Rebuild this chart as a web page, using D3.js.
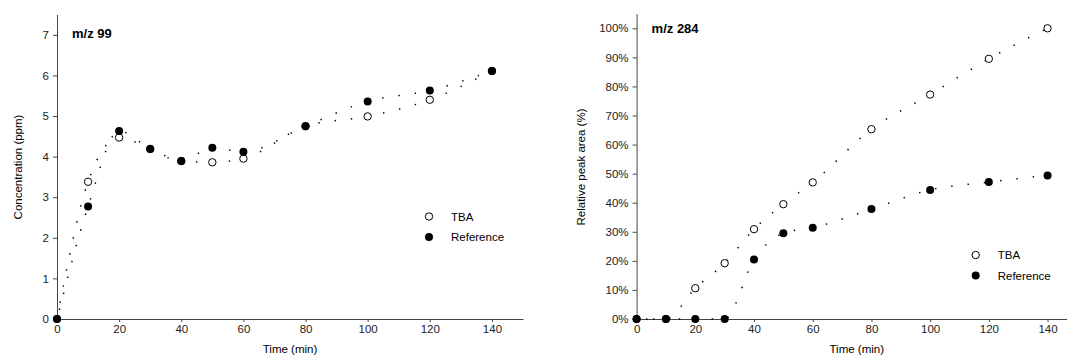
<html>
<head>
<script src="https://cdnjs.cloudflare.com/ajax/libs/d3/7.8.5/d3.min.js"></script>
<style>
  body { margin: 0; background: #fff; }
  svg { font-family: "Liberation Sans", Arial, sans-serif; }
  .axis path, .axis line { stroke: #444; }
  .axis text { font-size: 11.5px; fill: #222; }
  .dotline { fill: none; stroke: #000; stroke-width: 1.5; stroke-dasharray: 1.4 15; }
</style>
</head>
<body>
<svg id="chart" width="1067" height="356"></svg>
<script>
// sampling times (min)
var times = [0, 10, 20, 30, 40, 50, 60, 80, 100, 120, 140];

// m/z 99 concentration (ppm)
var tba99 = [0, 3.38, 4.47, 4.19, 3.89, 3.86, 3.95, 4.75, 4.99, 5.40, 6.11];
var ref99 = [0, 2.77, 4.63, 4.19, 3.89, 4.22, 4.12, 4.75, 5.36, 5.63, 6.11];

// m/z 284 relative peak area (%)
var tba284 = [0, 0, 10.6, 19.2, 30.9, 39.5, 47.0, 65.3, 77.2, 89.5, 100];
var ref284 = [0, 0, 0, 0, 20.5, 29.5, 31.4, 37.8, 44.4, 47.1, 49.4];

var xTicks = [0, 20, 40, 60, 80, 100, 120, 140];
var yTicks99 = [0, 1, 2, 3, 4, 5, 6, 7];
var yTicks284 = [0, 10, 20, 30, 40, 50, 60, 70, 80, 90, 100];

var svg = d3.select("#chart");

function panel(opt) {
  var x = d3.scaleLinear().domain([0, 150]).range([opt.left, opt.right]);
  var y = d3.scaleLinear().domain(opt.yDomain).range([319, 319 - (opt.yDomain[1] - opt.yDomain[0]) * opt.unit]);
  var g = svg.append("g");

  g.append("g").attr("class", "axis")
    .attr("transform", "translate(0,319)")
    .call(d3.axisBottom(x).tickValues(xTicks).tickSize(3).tickSizeOuter(0).tickPadding(3));
  g.append("g").attr("class", "axis")
    .attr("transform", "translate(" + opt.left + ",0)")
    .call(d3.axisLeft(y).tickValues(opt.yTicks).tickSize(4).tickSizeOuter(0).tickPadding(4).tickFormat(opt.fmt));

  // dotted connecting lines
  var line = d3.line().x((d, i) => x(times[i])).y(d => y(d)).curve(d3.curveMonotoneX);
  g.append("path").attr("class", "dotline").attr("d", line(opt.tba));
  g.append("path").attr("class", "dotline").attr("d", line(opt.ref)).style("stroke-dashoffset", 7);

  g.selectAll("circle.tba").data(opt.tba).enter().append("circle")
    .attr("cx", (d, i) => x(times[i])).attr("cy", d => y(d)).attr("r", 3.7)
    .attr("fill", "#fff").attr("stroke", "#000").attr("stroke-width", 1);
  g.selectAll("circle.ref").data(opt.ref).enter().append("circle")
    .attr("cx", (d, i) => x(times[i])).attr("cy", d => y(d)).attr("r", 4)
    .attr("fill", "#000");

  g.append("text").attr("x", opt.left + 15).attr("y", opt.titleY)
    .attr("font-size", 13).attr("font-weight", "bold").text(opt.title);

  g.append("text").attr("x", (opt.left + opt.right) / 2).attr("y", 353)
    .attr("text-anchor", "middle").attr("font-size", 11.5).text("Time (min)");
  g.append("text").attr("transform", "translate(" + opt.ylabX + ",167) rotate(-90)")
    .attr("text-anchor", "middle").attr("font-size", 11.5).text(opt.ylabel);

  // legend
  g.append("circle").attr("cx", opt.legX).attr("cy", opt.legY).attr("r", 3.7)
    .attr("fill", "#fff").attr("stroke", "#000");
  g.append("circle").attr("cx", opt.legX).attr("cy", opt.legY + 20.5).attr("r", 4).attr("fill", "#000");
  g.append("text").attr("x", opt.legX + 22).attr("y", opt.legY + 4).attr("font-size", 11.5).text("TBA");
  g.append("text").attr("x", opt.legX + 22).attr("y", opt.legY + 24.5).attr("font-size", 11.5).text("Reference");
}

panel({
  left: 57, right: 523, yDomain: [0, 7.5], unit: 40.6, yTicks: yTicks99, fmt: d3.format("d"),
  tba: tba99, ref: ref99, title: "m/z 99", titleY: 38,
  ylabel: "Concentration (ppm)", ylabX: 22, legX: 429, legY: 216.5
});
panel({
  left: 636.6, right: 1076.9, yDomain: [0, 105], unit: 2.907, yTicks: yTicks284, fmt: d => d + "%",
  tba: tba284, ref: ref284, title: "m/z 284", titleY: 33,
  ylabel: "Relative peak area (%)", ylabX: 585, legX: 975.7, legY: 255
});
</script>
</body>
</html>
